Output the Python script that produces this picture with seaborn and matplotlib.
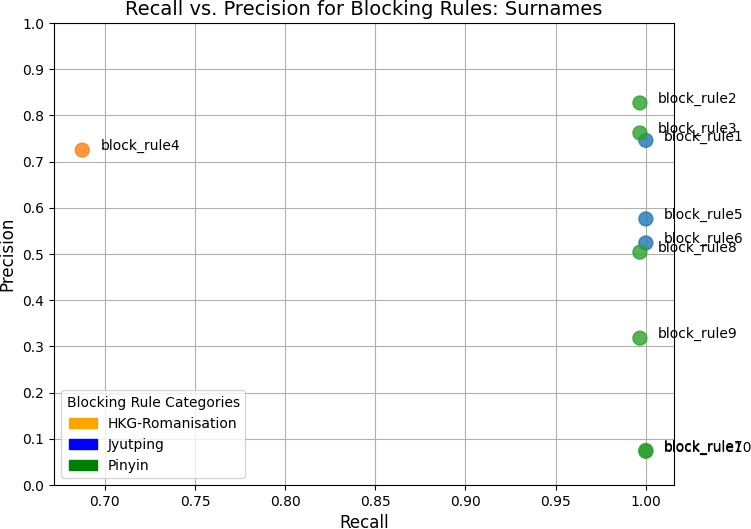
import pandas as pd
import seaborn as sns
import matplotlib
matplotlib.use("Agg")
import matplotlib.pyplot as plt
import matplotlib.patches as mpatches

# blocking rule results
rules = ["block_rule1", "block_rule2", "block_rule3", "block_rule4", "block_rule5",
         "block_rule6", "block_rule7", "block_rule8", "block_rule9", "block_rule10"]
recall = [1.000, 0.9967, 0.9967, 0.6875, 1.000, 1.000, 1.000, 0.9967, 0.9967, 1.000]
precision = [0.746, 0.827, 0.762, 0.725, 0.576, 0.524, 0.075, 0.504, 0.318, 0.073]
category = ["Jyutping", "Pinyin", "Pinyin", "HKG-Romanisation", "Jyutping",
            "Jyutping", "Pinyin", "Pinyin", "Pinyin", "Pinyin"]

categories = ["HKG-Romanisation", "Jyutping", "Pinyin"]
point_colors = ["tab:orange", "tab:blue", "tab:green"]
legend_colors = ["orange", "blue", "green"]

df = pd.DataFrame({"rule": rules, "Recall": recall, "Precision": precision, "cat": category})

fig, ax = plt.subplots(figsize=(7.51, 5.29), dpi=100)
fig.subplots_adjust(left=0.072, right=0.8975, top=0.9565, bottom=0.083)

sns.scatterplot(data=df, x="Recall", y="Precision", hue="cat", hue_order=categories,
                palette=point_colors, s=100, alpha=0.8, edgecolor="face", linewidth=1,
                legend=False, ax=ax)

for i, row in df.iterrows():
    ax.text(row["Recall"] + 0.01, row["Precision"], row["rule"], fontsize=10)

ax.set_ylim(0, 1)
ax.set_yticks([i / 10 for i in range(11)])
ax.set_xticks([0.70, 0.75, 0.80, 0.85, 0.90, 0.95, 1.00])
ax.grid(True)
ax.set_axisbelow(True)

ax.set_title("Recall vs. Precision for Blocking Rules: Surnames", fontsize=14)
ax.set_xlabel("Recall", fontsize=12)
ax.set_ylabel("Precision", fontsize=12)

handles = [mpatches.Patch(color=c, label=l) for c, l in zip(legend_colors, categories)]
ax.legend(handles=handles, title="Blocking Rule Categories", loc="lower left")

plt.savefig("out.png", dpi=100)
